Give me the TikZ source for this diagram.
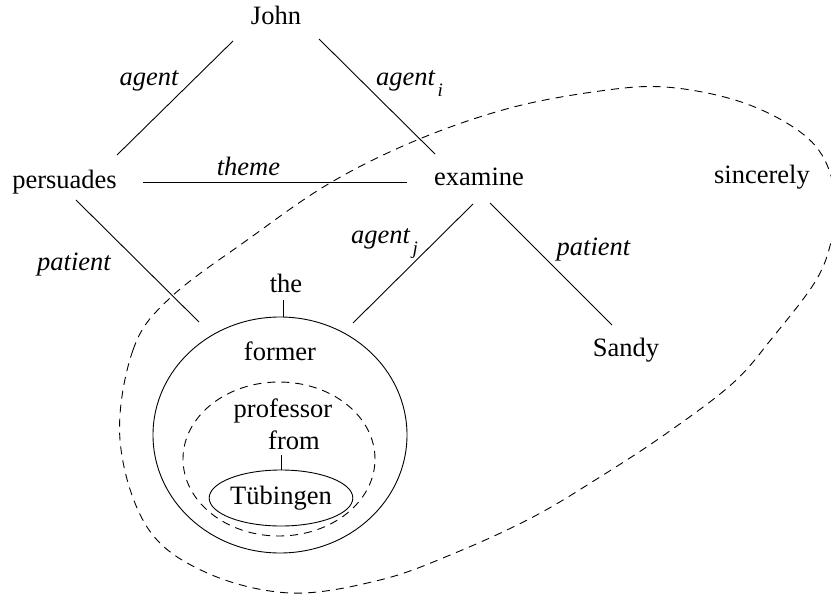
\documentclass[tikz,border=0pt]{standalone}
\usepackage{fontspec}
\setmainfont{Liberation Serif}
\usetikzlibrary{calc,shapes.geometric}
% lowered index after a role name
\newcommand\rolesub[1]{\/\kern2pt\raisebox{-11pt}{\fontsize{19}{20}\selectfont #1}}
\begin{document}
\begin{tikzpicture}[x=1pt,y=-1pt,
  word/.style={anchor=base,inner sep=0pt,font=\fontsize{26.5}{30}\selectfont},
  role/.style={anchor=base,inner sep=0pt,font=\fontsize{26.5}{30}\selectfont\itshape},
  link/.style={line width=0.9pt},
  scopeline/.style={line width=0.9pt,dash pattern=on 8pt off 6pt},
  ring/.style={ellipse,draw,inner sep=0pt,line width=0.9pt}]
\useasboundingbox (0,0) rectangle (831,597);

% words
\node[word] (john) at (276,24) {John};
\node[word] (persuades) at (64.5,188) {persuades};
\node[word] (examine) at (479,185) {examine};
\node[word] (sincerely) at (762,183) {sincerely};
\node[word] (sandy) at (626,356) {Sandy};
\node[word] (the) at (286,292) {the};
\node[word] (former) at (280,360) {former};
\node[word] (professor) at (283,417) {professor};
\node[word] (from) at (294,449) {from};

% nested scopes of the noun phrase
\node[ring,minimum width=254pt,minimum height=236pt] (np) at (280,435) {};
\node[ring,dashed,dash pattern=on 8pt off 6pt,minimum width=192pt,minimum height=154pt] (nbar) at (279,459) {};
\node[ring,minimum width=136pt,minimum height=56pt,font=\fontsize{26.5}{30}\selectfont] (tub) at (281,498) {Tübingen};

% role labels
\node[role] (lagent) at (149,85) {agent};
\node[role,anchor=base west] (lagenti) at (376,85) {agent\rolesub{i}};
\node[role] (ltheme) at (248.5,175) {theme};
\node[role] (lpatient) at (74,270) {patient};
\node[role,anchor=base west] (lagentj) at (351,243) {agent\rolesub{j}};
\node[role] (lpatientb) at (593.5,255) {patient};

% dependency links
\draw[link] ($(john.base)+(-43,17)$) -- ($(persuades.base)+(52.5,-33)$);
\draw[link] ($(john.base)+(43,15)$) -- ($(examine.base)+(-44,-31)$);
\draw[link] ($(persuades.base)+(78.5,-6)$) -- ($(examine.base)+(-72,-3)$);
\draw[link] ($(persuades.base)+(11.5,12)$) -- ($(np.center)+(-81,-113)$);
\draw[link] ($(examine.base)+(-6,19)$) -- ($(np.center)+(73,-112)$);
\draw[link] ($(examine.base)+(11,18)$) -- ($(sandy.base)+(-14,-31)$);
\draw[link] ($(the.base)+(-3,8)$) -- ($(np.north)+(3,0)$);
\draw[link] ($(from.base)+(-13,6)$) -- (tub.north);

% scope of the adverb
\draw[scopeline] plot[smooth cycle,tension=0.6] coordinates {
  (120,440) (133,350) (170,298) (250,238) (330,183) (417,140)
  (510,108) (600,91) (665,87) (735,100) (790,125) (822,155)
  (836,200) (831,242) (815,282) (773,337) (733,383) (667,433)
  (600,477) (533,517) (455,553) (380,580) (290,593) (205,572)
  (147,527)};
\end{tikzpicture}
\end{document}
